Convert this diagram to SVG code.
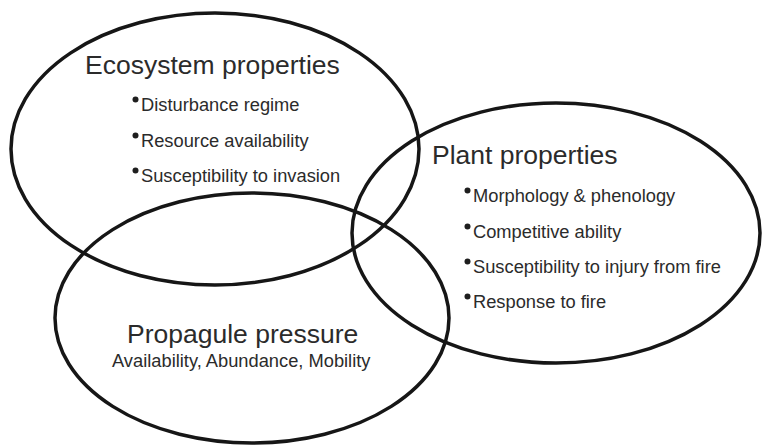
<svg xmlns="http://www.w3.org/2000/svg" width="762" height="447" viewBox="0 0 762 447">
  <style>
    .ring { fill: none; stroke: #161616; stroke-width: 3.5; }
    .title { font-family: "Liberation Sans", Arial, sans-serif; font-size: 26.5px; fill: #2b2b2b; }
    .item { font-family: "Liberation Sans", Arial, sans-serif; font-size: 18.3px; fill: #2b2b2b; }
    .dot { fill: #1e1e1e; }
  </style>
  <rect width="762" height="447" fill="#ffffff"/>

  <!-- Ecosystem properties -->
  <g id="ecosystem">
    <ellipse class="ring" cx="215" cy="149" rx="204" ry="136"/>
    <text class="title" x="85" y="74">Ecosystem properties</text>
    <circle class="dot" cx="135.5" cy="99.5" r="3"/>
    <text class="item" x="141" y="111">Disturbance regime</text>
    <circle class="dot" cx="135.5" cy="135.5" r="3"/>
    <text class="item" x="141" y="147">Resource availability</text>
    <circle class="dot" cx="135.5" cy="170.5" r="3"/>
    <text class="item" x="141" y="182">Susceptibility to invasion</text>
  </g>

  <!-- Plant properties -->
  <g id="plant">
    <ellipse class="ring" cx="556" cy="233" rx="204" ry="130"/>
    <text class="title" x="432" y="164">Plant properties</text>
    <circle class="dot" cx="467.5" cy="190.5" r="3"/>
    <text class="item" x="473" y="202">Morphology &amp; phenology</text>
    <circle class="dot" cx="467.5" cy="226.5" r="3"/>
    <text class="item" x="473" y="238">Competitive ability</text>
    <circle class="dot" cx="467.5" cy="261.5" r="3"/>
    <text class="item" x="473" y="273">Susceptibility to injury from fire</text>
    <circle class="dot" cx="467.5" cy="296.5" r="3"/>
    <text class="item" x="473" y="308">Response to fire</text>
  </g>

  <!-- Propagule pressure -->
  <g id="propagule">
    <ellipse class="ring" cx="252" cy="318" rx="197" ry="125"/>
    <text class="title" x="127" y="343">Propagule pressure</text>
    <text class="item" x="112" y="367">Availability, Abundance, Mobility</text>
  </g>

  <g id="connectors"/>
</svg>
